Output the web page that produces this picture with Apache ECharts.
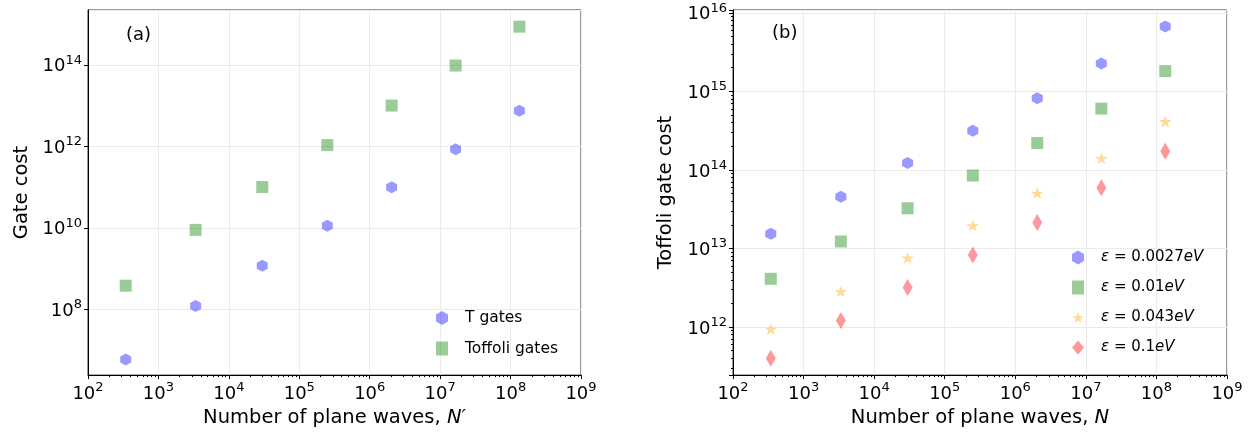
<!DOCTYPE html>
<html>
<head>
<meta charset="utf-8">
<script src="https://cdn.jsdelivr.net/npm/echarts@6/dist/echarts.min.js"></script>
<style>
  html, body { margin: 0; padding: 0; background: #fff; }
  #chart { width: 1256px; height: 433px; }
</style>
</head>
<body>
<div id="chart"></div>
<script>
  // number of plane waves (same grid for both panels)
  var planeWaves = [343, 3375, 29791, 250047, 2048383, 16581375, 133432831];

  // panel (a)
  var tGates = [5.9e6, 1.2e8, 1.18e9, 1.12e10, 9.9e10, 8.5e11, 7.5e12];
  var toffoliGates = [3.8e8, 8.9e9, 1.0e11, 1.07e12, 1.0e13, 9.6e13, 8.6e14];

  // panel (b), one list per precision
  var epsLabels = ['0.0027', '0.01', '0.043', '0.1'];
  var cost0027 = [1.54e13, 4.57e13, 1.23e14, 3.15e14, 8.2e14, 2.26e15, 6.7e15];
  var cost001 = [4.12e12, 1.23e13, 3.25e13, 8.5e13, 2.2e14, 6.04e14, 1.81e15];
  var cost0043 = [9.4e11, 2.85e12, 7.6e12, 1.96e13, 5.08e13, 1.41e14, 4.14e14];
  var cost01 = [4.0e11, 1.21e12, 3.2e12, 8.3e12, 2.14e13, 5.94e13, 1.73e14];

  var FONT = 'DejaVu Sans';
  var hexagon = 'path://M0,-1L0.866,-0.5L0.866,0.5L0,1L-0.866,0.5L-0.866,-0.5Z';
  var star = 'path://M0,-1L0.2245,-0.309L0.951,-0.309L0.363,0.118L0.588,0.809L0,0.382L-0.588,0.809L-0.363,0.118L-0.951,-0.309L-0.2245,-0.309Z';

  function pairs(xs, ys) {
    return xs.map(function(x, i) { return [x, ys[i]]; });
  }

  function powLabel(v) {
    var e = Math.round(Math.log10(v));
    return '{b|10}{s|' + e + '}';
  }

  var powRich = {
    b: { fontSize: 18, fontFamily: FONT, color: '#000', lineHeight: 22, verticalAlign: 'bottom' },
    s: { fontSize: 13, fontFamily: FONT, color: '#000', lineHeight: 12, verticalAlign: 'top' }
  };

  function xAxisFor(idx, nameRich) {
    return {
      type: 'log',
      gridIndex: idx,
      min: 1e2,
      max: 1e9,
      logBase: 10,
      name: nameRich,
      nameLocation: 'middle',
      nameGap: 30,
      nameTextStyle: {
        fontSize: 19.5, fontFamily: FONT, color: '#000',
        rich: {
          t: { fontSize: 19.5, fontFamily: FONT, color: '#000' },
          i: { fontSize: 19.5, fontFamily: FONT, color: '#000', fontStyle: 'italic' }
        }
      },
      axisLine: { lineStyle: { color: '#000', width: 1 } },
      axisTick: { show: true, length: 4, lineStyle: { color: '#000' } },
      minorTick: { show: true, splitNumber: 9, length: 2, lineStyle: { color: '#000' } },
      splitLine: { show: true, lineStyle: { color: '#ebebeb', width: 1 } },
      axisLabel: {
        margin: 6,
        showMinLabel: true,
        showMaxLabel: true,
        formatter: powLabel,
        rich: powRich
      }
    };
  }

  var chart = echarts.init(document.getElementById('chart'));
  chart.setOption({
    backgroundColor: '#fff',
    animation: false,
    title: [
      { text: '(a)', left: 121, top: 21, textStyle: { fontSize: 18, fontWeight: 'normal', fontFamily: FONT, color: '#000' } },
      { text: '(b)', left: 767, top: 19, textStyle: { fontSize: 18, fontWeight: 'normal', fontFamily: FONT, color: '#000' } }
    ],
    grid: [
      { left: 88, right: 675, top: 10, bottom: 56, show: true, borderColor: '#333', borderWidth: 1 },
      { left: 733, right: 29, top: 10, bottom: 55, show: true, borderColor: '#333', borderWidth: 1 }
    ],
    legend: [
      {
        orient: 'vertical',
        left: 431, top: 305,
        itemWidth: 12, itemHeight: 14, itemGap: 14.5,
        data: ['T gates', 'Toffoli gates'],
        textStyle: { fontSize: 15.5, lineHeight: 14, fontFamily: FONT, color: '#000', padding: [0, 0, 0, 12] }
      },
      {
        orient: 'vertical',
        left: 1067, top: 245,
        itemWidth: 12, itemHeight: 14, itemGap: 15,
        data: epsLabels.map(function(e) { return 'ε = ' + e + 'eV'; }),
        formatter: function(name) {
          var v = name.replace('ε = ', '').replace('eV', '');
          return '{i|ε} = ' + v + '{i|eV}';
        },
        textStyle: {
          fontSize: 15, lineHeight: 14, fontFamily: FONT, color: '#000', padding: [0, 0, 0, 12],
          rich: {
            i: { fontSize: 15, lineHeight: 14, fontFamily: FONT, color: '#000', fontStyle: 'italic' }
          }
        }
      }
    ],
    xAxis: [
      xAxisFor(0, '{t|Number of plane waves, }{i|N′}'),
      xAxisFor(1, '{t|Number of plane waves, }{i|N}')
    ],
    yAxis: [
      {
        type: 'log',
        gridIndex: 0,
        logBase: 100,
        min: 2.43e6,
        max: 2.21e15,
        name: 'Gate cost',
        nameLocation: 'middle',
        nameGap: 56,
        nameTextStyle: { fontSize: 19.5, fontFamily: FONT, color: '#000' },
        axisLine: { lineStyle: { color: '#000', width: 1 } },
        axisTick: { show: true, length: 4, lineStyle: { color: '#000' } },
        splitLine: { show: true, lineStyle: { color: '#ebebeb', width: 1 } },
        axisLabel: {
          margin: 6,
          showMinLabel: false,
          showMaxLabel: false,
          formatter: powLabel,
          rich: powRich
        }
      },
      {
        type: 'log',
        gridIndex: 1,
        logBase: 10,
        min: 2.449e11,
        max: 1.086e16,
        name: 'Toffoli gate cost',
        nameLocation: 'middle',
        nameGap: 57,
        nameTextStyle: { fontSize: 19.5, fontFamily: FONT, color: '#000' },
        axisLine: { lineStyle: { color: '#000', width: 1 } },
        axisTick: { show: true, length: 4, lineStyle: { color: '#000' } },
        minorTick: { show: true, splitNumber: 9, length: 2, lineStyle: { color: '#000' } },
        splitLine: { show: true, lineStyle: { color: '#ebebeb', width: 1 } },
        axisLabel: {
          margin: 6,
          showMinLabel: false,
          showMaxLabel: false,
          formatter: powLabel,
          rich: powRich
        }
      }
    ],
    series: [
      {
        name: 'T gates', type: 'scatter', xAxisIndex: 0, yAxisIndex: 0,
        symbol: hexagon, symbolSize: [11, 12],
        itemStyle: { color: 'rgba(0,0,255,0.5)' },
        data: pairs(planeWaves, tGates)
      },
      {
        name: 'Toffoli gates', type: 'scatter', xAxisIndex: 0, yAxisIndex: 0,
        symbol: 'rect', symbolSize: 12,
        itemStyle: { color: 'rgba(0,128,0,0.5)' },
        data: pairs(planeWaves, toffoliGates)
      },
      {
        name: 'ε = 0.0027eV', type: 'scatter', xAxisIndex: 1, yAxisIndex: 1,
        symbol: hexagon, symbolSize: [11, 12],
        itemStyle: { color: 'rgba(0,0,255,0.5)' },
        data: pairs(planeWaves, cost0027)
      },
      {
        name: 'ε = 0.01eV', type: 'scatter', xAxisIndex: 1, yAxisIndex: 1,
        symbol: 'rect', symbolSize: 12,
        itemStyle: { color: 'rgba(0,128,0,0.5)' },
        data: pairs(planeWaves, cost001)
      },
      {
        name: 'ε = 0.043eV', type: 'scatter', xAxisIndex: 1, yAxisIndex: 1,
        symbol: star, symbolSize: [13, 12],
        itemStyle: { color: 'rgba(255,165,0,0.5)' },
        data: pairs(planeWaves, cost0043)
      },
      {
        name: 'ε = 0.1eV', type: 'scatter', xAxisIndex: 1, yAxisIndex: 1,
        symbol: 'diamond', symbolSize: [10, 17],
        itemStyle: { color: 'rgba(255,0,0,0.5)' },
        data: pairs(planeWaves, cost01)
      }
    ]
  });
</script>
</body>
</html>
